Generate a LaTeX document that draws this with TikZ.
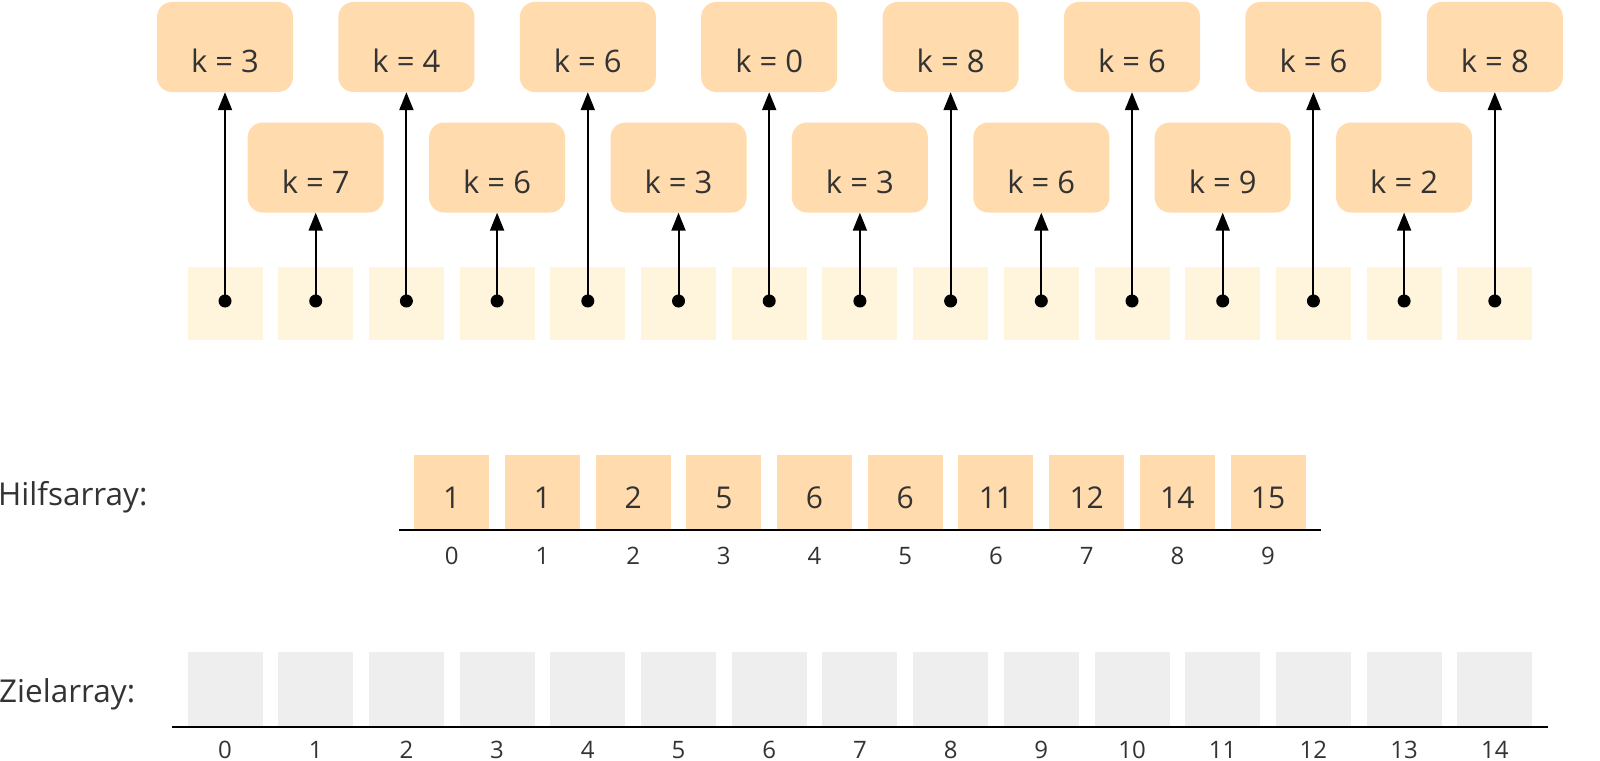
\documentclass[tikz,border=0pt]{standalone}
\usepackage{fontspec}
\setmainfont{Open Sans}
\usetikzlibrary{arrows.meta}
\definecolor{peach}{HTML}{FFDBAD}
\definecolor{cream}{HTML}{FFF5DC}
\definecolor{cellgray}{HTML}{EEEEEE}
\definecolor{ink}{HTML}{333333}
\tikzset{
  kbox/.style={fill=peach, rounded corners=15pt, minimum width=136pt, minimum height=90pt, inner sep=0pt},
  klabel/.style={anchor=base, inner sep=0pt, text=ink, font=\fontsize{31}{36}\selectfont},
  srccell/.style={fill=cream, minimum width=75pt, minimum height=73pt, inner sep=0pt},
  hcell/.style={fill=peach, minimum width=75pt, minimum height=74pt, inner sep=0pt},
  zcell/.style={fill=cellgray, minimum width=75pt, minimum height=74pt, inner sep=0pt},
  numlabel/.style={anchor=base, inner sep=0pt, text=ink, font=\fontsize{30}{34}\selectfont},
  idx/.style={anchor=base, inner sep=0pt, text=ink, font=\fontsize{24}{28}\selectfont},
  rowlabel/.style={anchor=base west, inner sep=0pt, text=ink, font=\fontsize{31.5}{36}\selectfont},
  dotnode/.style={circle, fill=black, minimum size=13pt, inner sep=0pt},
  ptr/.style={line width=2pt, -{Triangle[length=18pt,width=14pt]}},
  axisline/.style={line width=2pt},
}
\begin{document}
\begin{tikzpicture}[x=1pt,y=-1pt]
\useasboundingbox (0,0) rectangle (1600,760);
% source array with pointers to records
\foreach \i/\k in {0/3,1/7,2/4,3/6,4/6,5/3,6/0,7/3,8/8,9/6,10/6,11/9,12/6,13/2,14/8}{
  \pgfmathsetmacro\cx{225+90.7*\i}
  \pgfmathtruncatemacro\odd{mod(\i,2)}
  \pgfmathsetmacro\by{47+120.5*\odd}
  \node[srccell] (s\i) at (\cx,303) {};
  \node[kbox] (k\i) at (\cx,\by) {};
  \node[klabel] (t\i) at (\cx,\by+25.5) {k = \k};
  \node[dotnode] (d\i) at (\cx,301) {};
  \draw[ptr] (d\i.center) -- (k\i.south);
}
% Hilfsarray
\node[rowlabel] (hlab) at (-2,505) {Hilfsarray:};
\foreach \i/\v in {0/1,1/1,2/2,3/5,4/6,5/6,6/11,7/12,8/14,9/15}{
  \pgfmathsetmacro\hx{225+90.7*(\i+2.5)}
  \node[hcell] (h\i) at (\hx,492) {};
  \node[numlabel] (hv\i) at (\hx,508) {\v};
  \node[idx] (hi\i) at (\hx,564) {\i};
}
\coordinate (hl) at (399,530);
\coordinate (hr) at (1321,530);
\draw[axisline] (hl) -- (hr);
% Zielarray
\node[rowlabel] (zlab) at (-1,702) {Zielarray:};
\foreach \i in {0,...,14}{
  \pgfmathsetmacro\zx{225+90.7*\i}
  \node[zcell] (z\i) at (\zx,689) {};
  \node[idx] (zi\i) at (\zx,758) {\i};
}
\coordinate (zl) at (172,727);
\coordinate (zr) at (1548,727);
\draw[axisline] (zl) -- (zr);
\end{tikzpicture}
\end{document}
